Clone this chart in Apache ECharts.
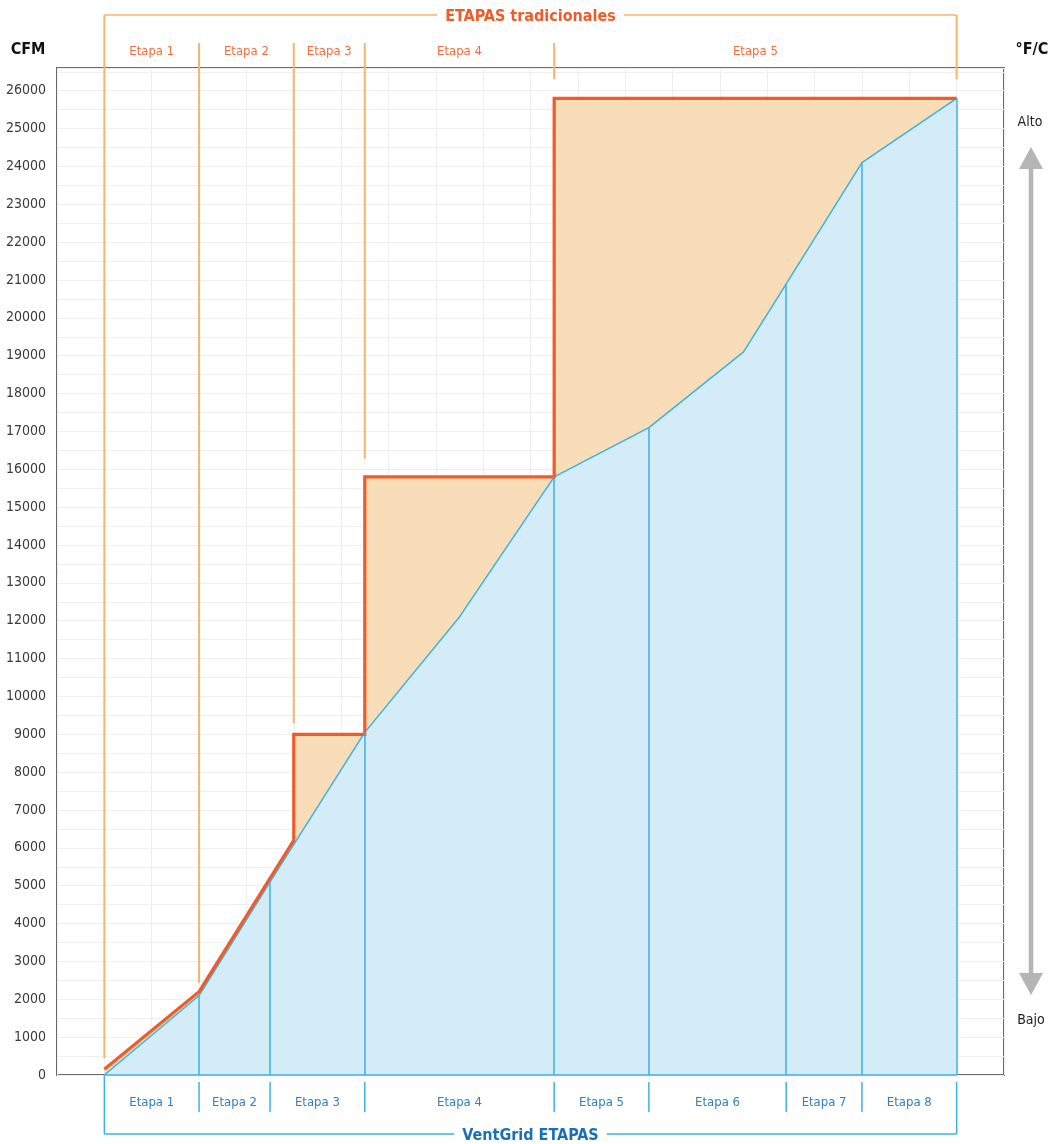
<!DOCTYPE html>
<html>
<head>
<meta charset="utf-8">
<script src="https://cdn.jsdelivr.net/npm/echarts@6/dist/echarts.min.js"></script>
<style>
html,body{margin:0;padding:0;background:#fff}
#chart{width:1050px;height:1144px}
</style>
</head>
<body>
<div id="chart"></div>
<script>
// etapas tradicionales (escalones)
const tradX = [1, 3, 5, 5, 6.5, 6.5, 10.5, 10.5, 19];
const tradY = [150, 2200, 6200, 9000, 9000, 15800, 15800, 25800, 25800];
const tradStageX = [1, 3, 5, 6.5, 10.5, 19];
const tradStageTop = [150, 2200, 9000, 15800, 25800, 25800];
const tradLabels = ['Etapa 1', 'Etapa 2', 'Etapa 3', 'Etapa 4', 'Etapa 5'];

// etapas VentGrid
const ventX = [1, 3, 4.5, 6.5, 8.5, 10.5, 12.5, 14.5, 15.4, 17, 19];
const ventY = [0, 2100, 5100, 9050, 12100, 15800, 17100, 19100, 20900, 24100, 25800];
const ventStageX = [1, 3, 4.5, 6.5, 10.5, 12.5, 15.4, 17, 19];
const ventLabels = ['Etapa 1', 'Etapa 2', 'Etapa 3', 'Etapa 4', 'Etapa 5', 'Etapa 6', 'Etapa 7', 'Etapa 8'];

const yMin = 0, yMax = 26600, yStep = 500;

const FONT = "'Liberation Sans Narrow', 'DejaVu Sans Condensed', Roboto, sans-serif";
const ORANGE = '#f15a29';
const ORANGE_THIN = '#f8b46c';
const ORANGE_TXT = '#f26d3d';
const BLUE = '#3bb2e4';
const BLUE_TXT = '#2f80c3';
const BLUE_TITLE = '#1b6fb6';

const chart = echarts.init(document.getElementById('chart'));

const tradData = tradX.map((x, i) => [x, tradY[i]]);
const ventData = ventX.map((x, i) => [x, ventY[i]]);
const ventAt = x => ventY[ventX.indexOf(x)];

const dividers = ventStageX.slice(1).map(x => [{coord: [x, 0]}, {coord: [x, ventAt(x)]}]);
dividers.push([{coord: [ventStageX[0], 0]}, {coord: [ventStageX[ventStageX.length - 1], 0]}]);

const option = {
    animation: false,
    grid: {
        left: 57, right: 46, top: 68, bottom: 69,
        outerBoundsMode: 'none',
        show: true,
        borderColor: '#6b6b6b',
        borderWidth: 2,
        backgroundColor: '#fff'
    },
    xAxis: {
        type: 'value',
        min: 0, max: 20, interval: 1,
        axisLine: {show: false},
        axisTick: {show: false},
        axisLabel: {show: false},
        splitLine: {show: true, lineStyle: {color: '#eeeeee', width: 1}}
    },
    yAxis: {
        type: 'value',
        min: yMin, max: yMax, interval: yStep,
        axisLine: {show: false},
        axisTick: {show: false},
        axisLabel: {
            margin: 11,
            color: '#3a3a3a',
            fontFamily: FONT,
            fontSize: 14,
            formatter: v => (v % 1000 === 0 ? String(v) : '')
        },
        splitLine: {show: true, lineStyle: {color: '#eeeeee', width: 1}}
    },
    series: [
        {
            name: 'tradFill',
            type: 'line',
            z: 1,
            data: tradData,
            showSymbol: false,
            lineStyle: {width: 0},
            areaStyle: {color: '#f9dab4', opacity: 0.95}
        },
        {
            name: 'VentGrid',
            type: 'line',
            z: 2,
            data: ventData,
            showSymbol: false,
            lineStyle: {color: BLUE, width: 1.5},
            areaStyle: {color: '#d4ebf8', opacity: 1},
            markLine: {
                silent: true,
                symbol: ['none', 'none'],
                label: {show: false},
                lineStyle: {color: BLUE, width: 1.5, type: 'solid'},
                data: dividers
            }
        },
        {
            name: 'tradicional',
            type: 'line',
            z: 3,
            data: tradData,
            showSymbol: false,
            lineStyle: {color: ORANGE, width: 3.2, join: 'miter'}
        }
    ]
};

chart.setOption(option);

// decoraciones fuera del área: llaves, etiquetas de etapas, flechas
function drawGraphics() {
    const px = (x, y) => chart.convertToPixel({gridIndex: 0}, [x, y]);
    const g = [];
    const line = (x1, y1, x2, y2, color, w) => g.push({
        type: 'line', silent: true, z: 10,
        shape: {x1, y1, x2, y2},
        style: {stroke: color, lineWidth: w}
    });
    const text = (x, y, str, color, size, weight, align, bg) => g.push({
        type: 'text', silent: true, z: 11, x, y,
        style: {
            text: str, fill: color, fontSize: size, fontWeight: weight || 'normal',
            fontFamily: FONT, align: align || 'center', verticalAlign: 'middle',
            backgroundColor: bg || null, padding: bg ? [0, 8] : 0
        }
    });

    const bottomY = px(0, 0)[1];
    const topBracketY = 15;
    const topSepY = 43;
    const botBracketY = 1134;
    const botSepTop = bottomY + 7;
    const botSepBot = bottomY + 37;
    const gaps = [11, 9, 11, 18, 19, 19];

    // llave superior (tradicional)
    const tL = px(tradStageX[0], 0)[0];
    const tR = px(tradStageX[tradStageX.length - 1], 0)[0];
    line(tL, topBracketY, tR, topBracketY, ORANGE_THIN, 1.5);
    tradStageX.forEach((x, i) => {
        const p = px(x, tradStageTop[i]);
        const start = (i === 0 || i === tradStageX.length - 1) ? topBracketY : topSepY;
        line(p[0], start, p[0], p[1] - gaps[i], ORANGE_THIN, 2);
    });
    tradLabels.forEach((s, i) => {
        const cx = (px(tradStageX[i], 0)[0] + px(tradStageX[i + 1], 0)[0]) / 2;
        text(cx, 52, s, ORANGE_TXT, 13);
    });
    text((tL + tR) / 2, 17, 'ETAPAS tradicionales', ORANGE, 16, 'bold', 'center', '#fff');

    // llave inferior (VentGrid)
    const vL = px(ventStageX[0], 0)[0];
    const vR = px(ventStageX[ventStageX.length - 1], 0)[0];
    line(vL, botBracketY, vR, botBracketY, BLUE, 1.5);
    line(vL, bottomY, vL, botBracketY, BLUE, 1.5);
    line(vR, botSepTop, vR, botBracketY, BLUE, 1.5);
    ventStageX.slice(1, -1).forEach(x => {
        const xx = px(x, 0)[0];
        line(xx, botSepTop, xx, botSepBot, BLUE, 1.5);
    });
    ventLabels.forEach((s, i) => {
        const cx = (px(ventStageX[i], 0)[0] + px(ventStageX[i + 1], 0)[0]) / 2;
        text(cx, 1103, s, BLUE_TXT, 13);
    });
    text((vL + vR) / 2, 1136, 'VentGrid ETAPAS', BLUE_TITLE, 16, 'bold', 'center', '#fff');

    // ejes: títulos
    text(28, 50, 'CFM', '#111', 16, 'bold');
    text(1032, 50, '°F/C', '#111', 16, 'bold');

    // flecha Alto / Bajo
    text(1030, 122, 'Alto', '#222', 14);
    text(1031, 1020, 'Bajo', '#222', 14);
    line(1031, 165, 1031, 977, '#b5b5b5', 4.5);
    g.push({type: 'polygon', silent: true, z: 10, shape: {points: [[1031, 147], [1019, 169], [1043, 169]]}, style: {fill: '#b5b5b5'}});
    g.push({type: 'polygon', silent: true, z: 10, shape: {points: [[1031, 995], [1019, 973], [1043, 973]]}, style: {fill: '#b5b5b5'}});

    chart.setOption({graphic: g});
}
drawGraphics();

window.addEventListener('resize', function () {
    chart.resize();
    drawGraphics();
});
</script>
</body>
</html>
